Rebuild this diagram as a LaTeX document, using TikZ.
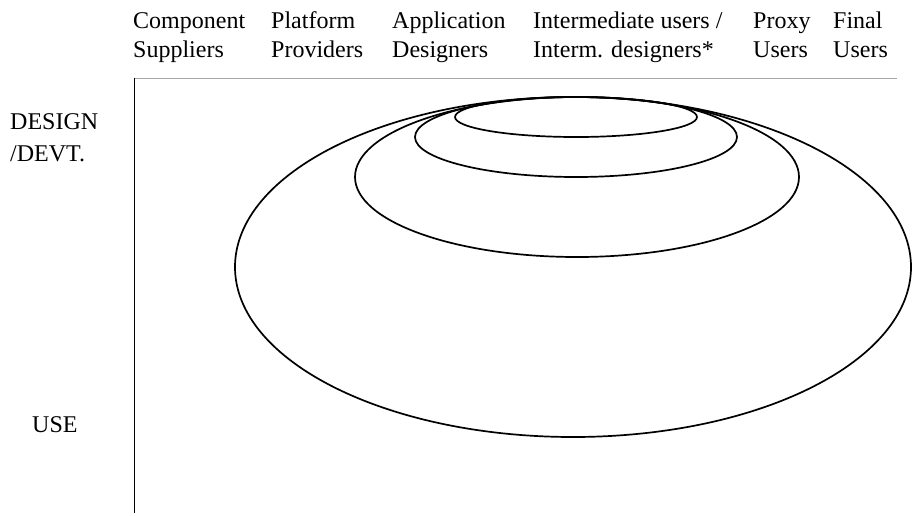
\documentclass[tikz,border=0pt]{standalone}
\usepackage{fontspec}
\setmainfont{Liberation Serif}
\begin{document}
\begin{tikzpicture}[x=1pt,y=-1pt,
  hdr/.style={anchor=base west,inner sep=0pt,align=left,font=\fontsize{24}{29}\selectfont},
  side/.style={anchor=base west,inner sep=0pt,align=left,font=\fontsize{24}{32}\selectfont},
  ring/.style={draw=black,line width=1.7pt}]
  \useasboundingbox (0,0) rectangle (913,515);
  % column headings (anchored at the baseline of the lower line)
  \node[hdr] (comp) at (133,57) {Component\\Suppliers};
  \node[hdr] (plat) at (271,57) {Platform\\Providers};
  \node[hdr] (appl) at (392,57) {Application\\Designers};
  \node[hdr] (inter) at (533,57) {Intermediate users /\\Interm. designers*};
  \node[hdr] (proxy) at (753,57) {Proxy\\Users};
  \node[hdr] (final) at (833,57) {Final\\Users};
  % row labels
  \node[side] (design) at (10,161) {DESIGN\\/DEVT.};
  \node[side] (use) at (32,432) {USE};
  % axes
  \coordinate (axtop) at (134.5,78);
  \coordinate (axbot) at (134.5,513);
  \coordinate (axright) at (897,78);
  \draw[gray!70,line width=0.9pt] (axtop) -- (axright);
  \draw[black,line width=1.7pt] (axtop) -- (axbot);
  % nested ellipses, all touching at the top
  \draw[ring] (573,267) ellipse [x radius=338, y radius=170];
  \draw[ring] (577,177) ellipse [x radius=222, y radius=80];
  \draw[ring] (576,137) ellipse [x radius=161, y radius=40];
  \draw[ring] (576,117) ellipse [x radius=121, y radius=20];
\end{tikzpicture}
\end{document}
